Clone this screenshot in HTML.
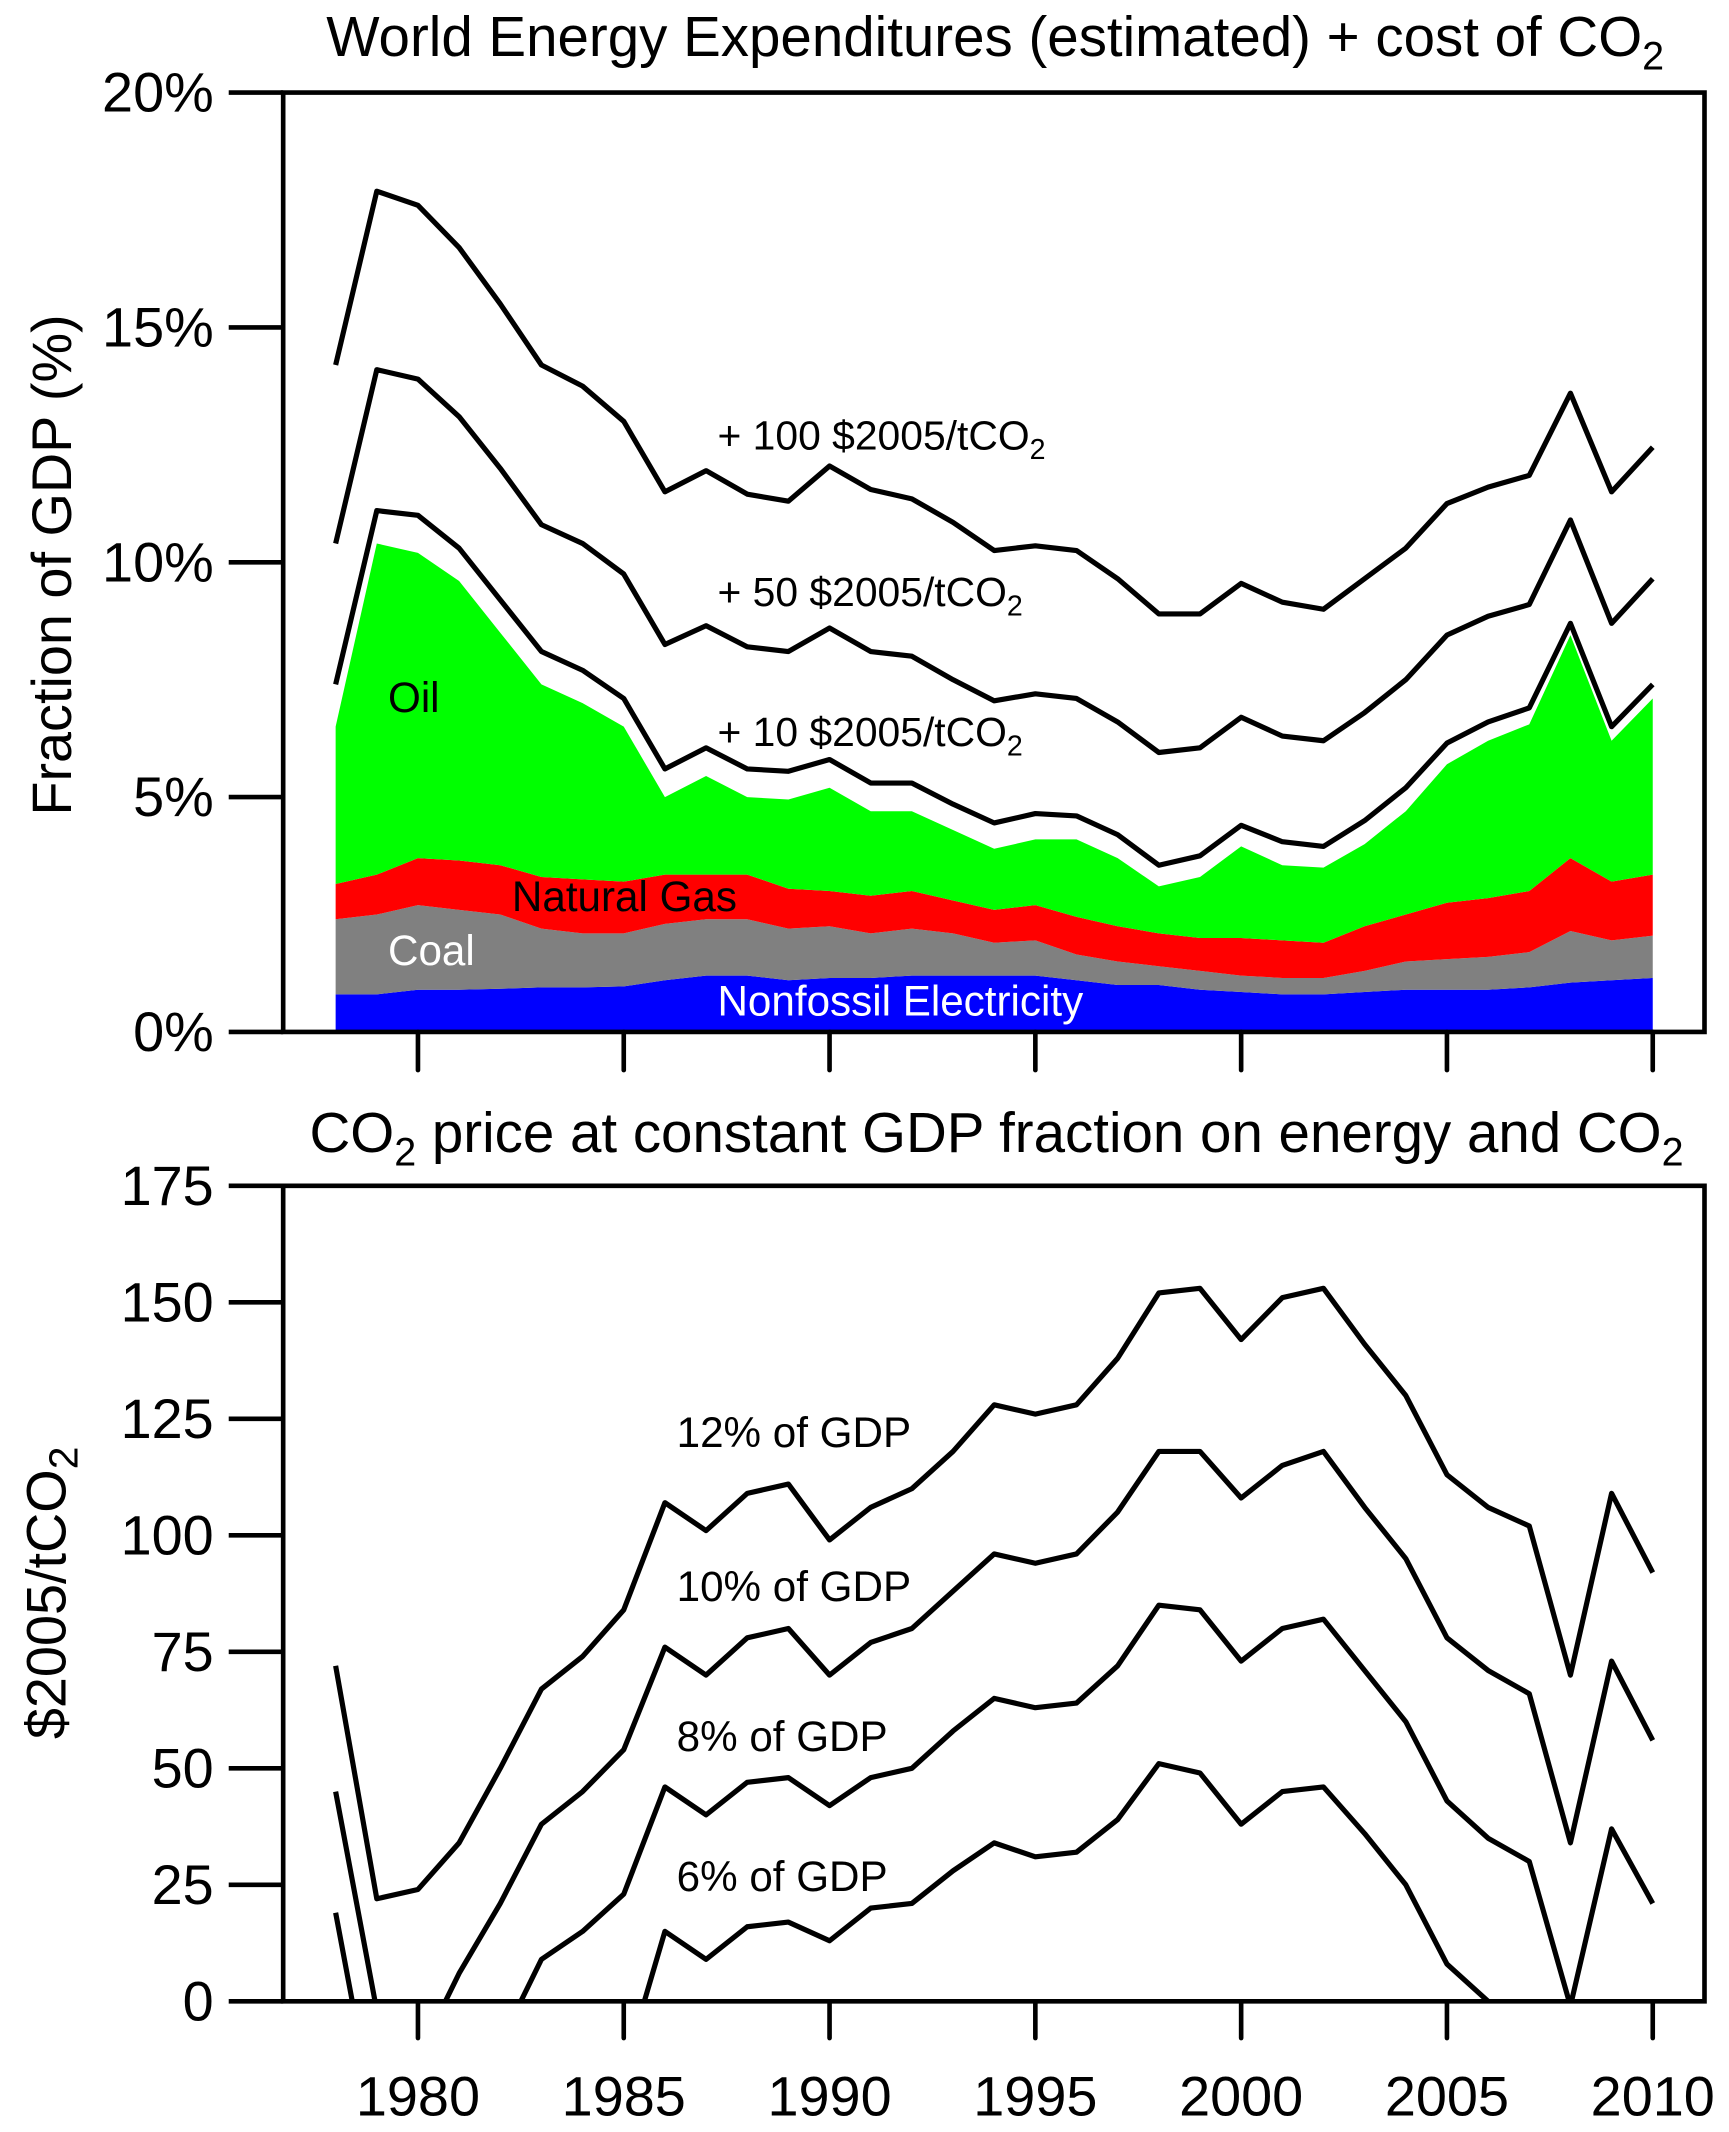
<!DOCTYPE html>
<html><head><meta charset="utf-8"><style>
html,body{margin:0;padding:0;background:#fff;width:1729px;height:2132px;overflow:hidden;}
svg{display:block;font-family:"Liberation Sans",Arial,sans-serif;}
</style></head><body>
<svg id="chart" width="1729" height="2132" viewBox="0 0 1270 1566" preserveAspectRatio="none">
<defs>
<clipPath id="clipTop"><rect x="208" y="68" width="1044" height="690"/></clipPath>
<clipPath id="clipBot"><rect x="208" y="871" width="1044" height="599"/></clipPath>
</defs>
<g id="topPanel"></g>
<g id="botPanel"></g>
<text x="731" y="41" font-size="41.5" text-anchor="middle">World Energy Expenditures (estimated) + cost of CO<tspan font-size="29" dy="10">2</tspan></text>
<text x="732" y="846" font-size="41.5" text-anchor="middle">CO<tspan font-size="29" dy="10">2</tspan><tspan dy="-10"> price at constant GDP fraction on energy and CO</tspan><tspan font-size="29" dy="10">2</tspan></text>
<text transform="translate(52,415) rotate(-90)" font-size="41" text-anchor="middle">Fraction of GDP (%)</text>
<text transform="translate(48,1170) rotate(-90)" font-size="41" text-anchor="middle">$2005/tCO<tspan font-size="30" dy="9">2</tspan></text>
<text x="527" y="330" font-size="30">+ 100 $2005/tCO<tspan font-size="21" dy="7">2</tspan></text>
<text x="527" y="445" font-size="30">+ 50 $2005/tCO<tspan font-size="21" dy="7">2</tspan></text>
<text x="527" y="548" font-size="30">+ 10 $2005/tCO<tspan font-size="21" dy="7">2</tspan></text>
<text x="285" y="523" font-size="31">Oil</text>
<text x="376" y="669" font-size="31">Natural Gas</text>
<text x="285" y="709" font-size="31" fill="#fff">Coal</text>
<text x="527" y="746" font-size="31" fill="#fff">Nonfossil Electricity</text>
<text x="497" y="1063" font-size="31">12% of GDP</text>
<text x="497" y="1176" font-size="31">10% of GDP</text>
<text x="497" y="1286" font-size="31">8% of GDP</text>
<text x="497" y="1389" font-size="31">6% of GDP</text>
</svg>
<script>
const years = [];
for (let y = 1978; y <= 2010; y++) years.push(y);
const nonfossil = [0.8,0.8,0.9,0.9,0.92,0.95,0.95,0.97,1.1,1.2,1.2,1.1,1.15,1.15,1.2,1.2,1.2,1.2,1.1,1.0,1.0,0.9,0.85,0.8,0.8,0.85,0.9,0.9,0.9,0.95,1.05,1.1,1.15];
const coalTop = [2.4,2.5,2.7,2.6,2.5,2.2,2.1,2.1,2.3,2.4,2.4,2.2,2.25,2.1,2.2,2.1,1.9,1.95,1.65,1.5,1.4,1.3,1.2,1.15,1.15,1.3,1.5,1.55,1.6,1.7,2.15,1.95,2.05];
const gasTop = [3.15,3.35,3.7,3.65,3.55,3.3,3.25,3.2,3.35,3.35,3.35,3.05,3.0,2.9,3.0,2.8,2.6,2.7,2.45,2.25,2.1,2.0,2.0,1.95,1.9,2.25,2.5,2.75,2.85,3.0,3.7,3.2,3.35];
const oilTop = [6.5,10.4,10.2,9.6,8.5,7.4,7.0,6.5,5.0,5.45,5.0,4.95,5.2,4.7,4.7,4.3,3.9,4.1,4.1,3.7,3.1,3.3,3.95,3.55,3.5,4.0,4.7,5.7,6.2,6.55,8.45,6.2,7.1];
const plus10 = [7.4,11.1,11.0,10.3,9.2,8.1,7.7,7.1,5.6,6.05,5.6,5.55,5.8,5.3,5.3,4.85,4.45,4.65,4.6,4.2,3.55,3.75,4.4,4.05,3.95,4.5,5.2,6.15,6.6,6.9,8.7,6.5,7.4];
const plus50 = [10.4,14.1,13.9,13.1,12.0,10.8,10.4,9.75,8.25,8.65,8.2,8.1,8.6,8.1,8.0,7.5,7.05,7.2,7.1,6.6,5.95,6.05,6.7,6.3,6.2,6.8,7.5,8.45,8.85,9.1,10.9,8.7,9.65];
const plus100 = [14.2,17.9,17.6,16.7,15.5,14.2,13.75,13.0,11.5,11.95,11.45,11.3,12.05,11.55,11.35,10.85,10.25,10.35,10.25,9.65,8.9,8.9,9.55,9.15,9.0,9.65,10.3,11.25,11.6,11.85,13.6,11.5,12.45];
const price12 = [72,22,24,34,50,67,74,84,107,101,109,111,99,106,110,118,128,126,128,138,152,153,142,151,153,141,130,113,106,102,70,109,92];
const price10 = [45,-2,-12,6,21,38,45,54,76,70,78,80,70,77,80,88,96,94,96,105,118,118,108,115,118,106,95,78,71,66,34,73,56];
const price8 = [19,-28,-40,-30,-9,9,15,23,46,40,47,48,42,48,50,58,65,63,64,72,85,84,73,80,82,71,60,43,35,30,-1,37,21];
const price6 = [-7,-60,-70,-60,-45,-30,-20,-15,15,9,16,17,13,20,21,28,34,31,32,39,51,49,38,45,46,36,25,8,0,-5,-35,-5,-20];
const topTicks = [0,5,10,15,20];
const botTicks = [0,25,50,75,100,125,150,175];
const xTicks = [1980,1985,1990,1995,2000,2005,2010];

const NS = "http://www.w3.org/2000/svg";
const X = yr => 307 + (yr - 1980) * 30.233;
const YT = v => 758 - v * 34.5;
const YB = v => 1470 - v * (599 / 175);
function mk(parent, tag, attrs, txt) {
  const e = document.createElementNS(NS, tag);
  for (const k in attrs) e.setAttribute(k, attrs[k]);
  if (txt !== undefined) e.textContent = txt;
  parent.appendChild(e);
  return e;
}
const gTop = document.getElementById('topPanel');
const gBot = document.getElementById('botPanel');

function area(lower, upper, color, name) {
  let d = '';
  years.forEach((y, i) => { d += (i ? 'L' : 'M') + X(y) + ',' + YT(upper[i]); });
  for (let i = years.length - 1; i >= 0; i--) d += 'L' + X(years[i]) + ',' + YT(lower ? lower[i] : 0);
  const p = mk(gTop, 'path', {d: d + 'Z', fill: color, 'clip-path': 'url(#clipTop)'});
  
  
}
area(null, nonfossil, '#0000ff', 'area-nonfossil');
area(nonfossil, coalTop, '#808080', 'area-coal');
area(coalTop, gasTop, '#ff0000', 'area-gas');
area(gasTop, oilTop, '#00ff00', 'area-oil');

function line(g, vals, yf, clip, name) {
  const pts = years.map((y, i) => X(y) + ',' + yf(vals[i])).join(' ');
  const p = mk(g, 'polyline', {points: pts, fill: 'none', stroke: '#000', 'stroke-width': 3.8, 'stroke-linejoin': 'round', 'clip-path': clip});
  
  
}
line(gTop, plus10, YT, 'url(#clipTop)', 'line-plus-10');
line(gTop, plus50, YT, 'url(#clipTop)', 'line-plus-50');
line(gTop, plus100, YT, 'url(#clipTop)', 'line-plus-100');
line(gBot, price12, YB, 'url(#clipBot)', 'line-12pct');
line(gBot, price10, YB, 'url(#clipBot)', 'line-10pct');
line(gBot, price8, YB, 'url(#clipBot)', 'line-8pct');
line(gBot, price6, YB, 'url(#clipBot)', 'line-6pct');

function frame(g, y0, y1, name) {
  const p = mk(g, 'path', {d: `M208,${y0} L1252,${y0} L1252,${y1} L208,${y1} Z`, fill: 'none', stroke: '#000', 'stroke-width': 3.4});
  
  
}
frame(gTop, 68, 758, 'top-plot-frame');
frame(gBot, 871, 1470, 'bottom-plot-frame');

topTicks.forEach(v => {
  mk(gTop, 'line', {x1: 168, x2: 208, y1: YT(v), y2: YT(v), stroke: '#000', 'stroke-width': 3.4});
  const t = mk(gTop, 'text', {x: 157, y: YT(v) + 14, 'font-size': 41, 'text-anchor': 'end'}, v + '%');
  
  
});
botTicks.forEach(v => {
  mk(gBot, 'line', {x1: 168, x2: 208, y1: YB(v), y2: YB(v), stroke: '#000', 'stroke-width': 3.4});
  const t = mk(gBot, 'text', {x: 157, y: YB(v) + 14, 'font-size': 41, 'text-anchor': 'end'}, String(v));
  
  
});
xTicks.forEach(yr => {
  mk(gTop, 'line', {x1: X(yr), x2: X(yr), y1: 758, y2: 786, stroke: '#000', 'stroke-width': 3.4, 'stroke-linecap': 'round'});
  mk(gBot, 'line', {x1: X(yr), x2: X(yr), y1: 1470, y2: 1497, stroke: '#000', 'stroke-width': 3.4, 'stroke-linecap': 'round'});
  const t = mk(gBot, 'text', {x: X(yr), y: 1554, 'font-size': 41, 'text-anchor': 'middle'}, String(yr));
  
  
});
</script>
</body></html>
